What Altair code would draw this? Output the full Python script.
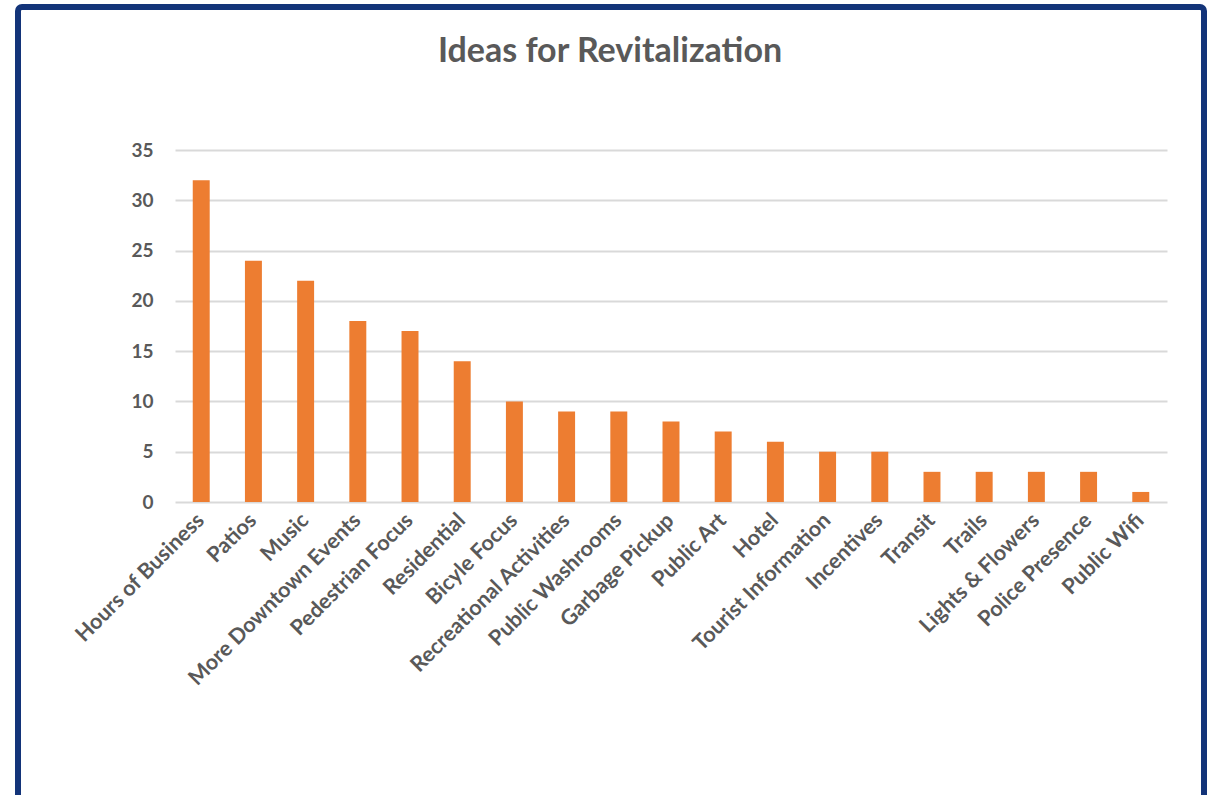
import altair as alt
import pandas as pd

categories = ["Hours of Business", "Patios", "Music", "More Downtown Events",
              "Pedestrian Focus", "Residential", "Bicyle Focus",
              "Recreational Activities", "Public Washrooms", "Garbage Pickup",
              "Public Art", "Hotel", "Tourist Information", "Incentives",
              "Transit", "Trails", "Lights & Flowers", "Police Presence",
              "Public Wifi"]
counts = [32, 24, 22, 18, 17, 14, 10, 9, 9, 8, 7, 6, 5, 5, 3, 3, 3, 3, 1]
y_ticks = [0, 5, 10, 15, 20, 25, 30, 35]

df = pd.DataFrame({"idea": categories, "count": counts})

FONT = "Lato"
GRAY = "#595959"

bars = alt.Chart(df).mark_bar(color="#ED7D31").encode(
    x=alt.X("idea:N", sort=categories, title=None,
            scale=alt.Scale(paddingInner=0.675, paddingOuter=0.34),
            axis=alt.Axis(labelAngle=-45, labelAlign="right", labelBaseline="middle",
                          labelFont=FONT, labelFontSize=21.5, labelFontWeight="bold",
                          labelColor=GRAY, ticks=False, domain=False, labelPadding=15,
                          labelLimit=0)),
    y=alt.Y("count:Q", title=None,
            scale=alt.Scale(domain=[0, 35], nice=False),
            axis=alt.Axis(values=y_ticks, labelFont=FONT, labelFontSize=19,
                          labelFontWeight="bold", labelColor=GRAY, ticks=False,
                          domain=False, labelPadding=22, gridColor="#d9d9d9",
                          gridWidth=2)),
)

frame = alt.Chart(pd.DataFrame({"f": [0]})).mark_rect(
    fill=None, stroke="#133479", strokeWidth=6, cornerRadius=4
).encode(
    x=alt.value(-157), x2=alt.value(1029),
    y=alt.value(-143), y2=alt.value(700),
)

chart = alt.layer(bars, frame).properties(
    width=992, height=352,
    background="white",
    title=alt.TitleParams("Ideas for Revitalization", font=FONT, fontSize=34,
                          fontWeight="bold", color=GRAY, anchor="middle",
                          dx=-61, offset=-65),
    autosize=alt.AutoSizeParams(type="none"),
    padding={"left": 175, "top": 150, "right": 43, "bottom": 293},
).configure_view(strokeWidth=0, stroke=None)

chart.save("out.html", embed_options={"renderer": "svg", "actions": False})
